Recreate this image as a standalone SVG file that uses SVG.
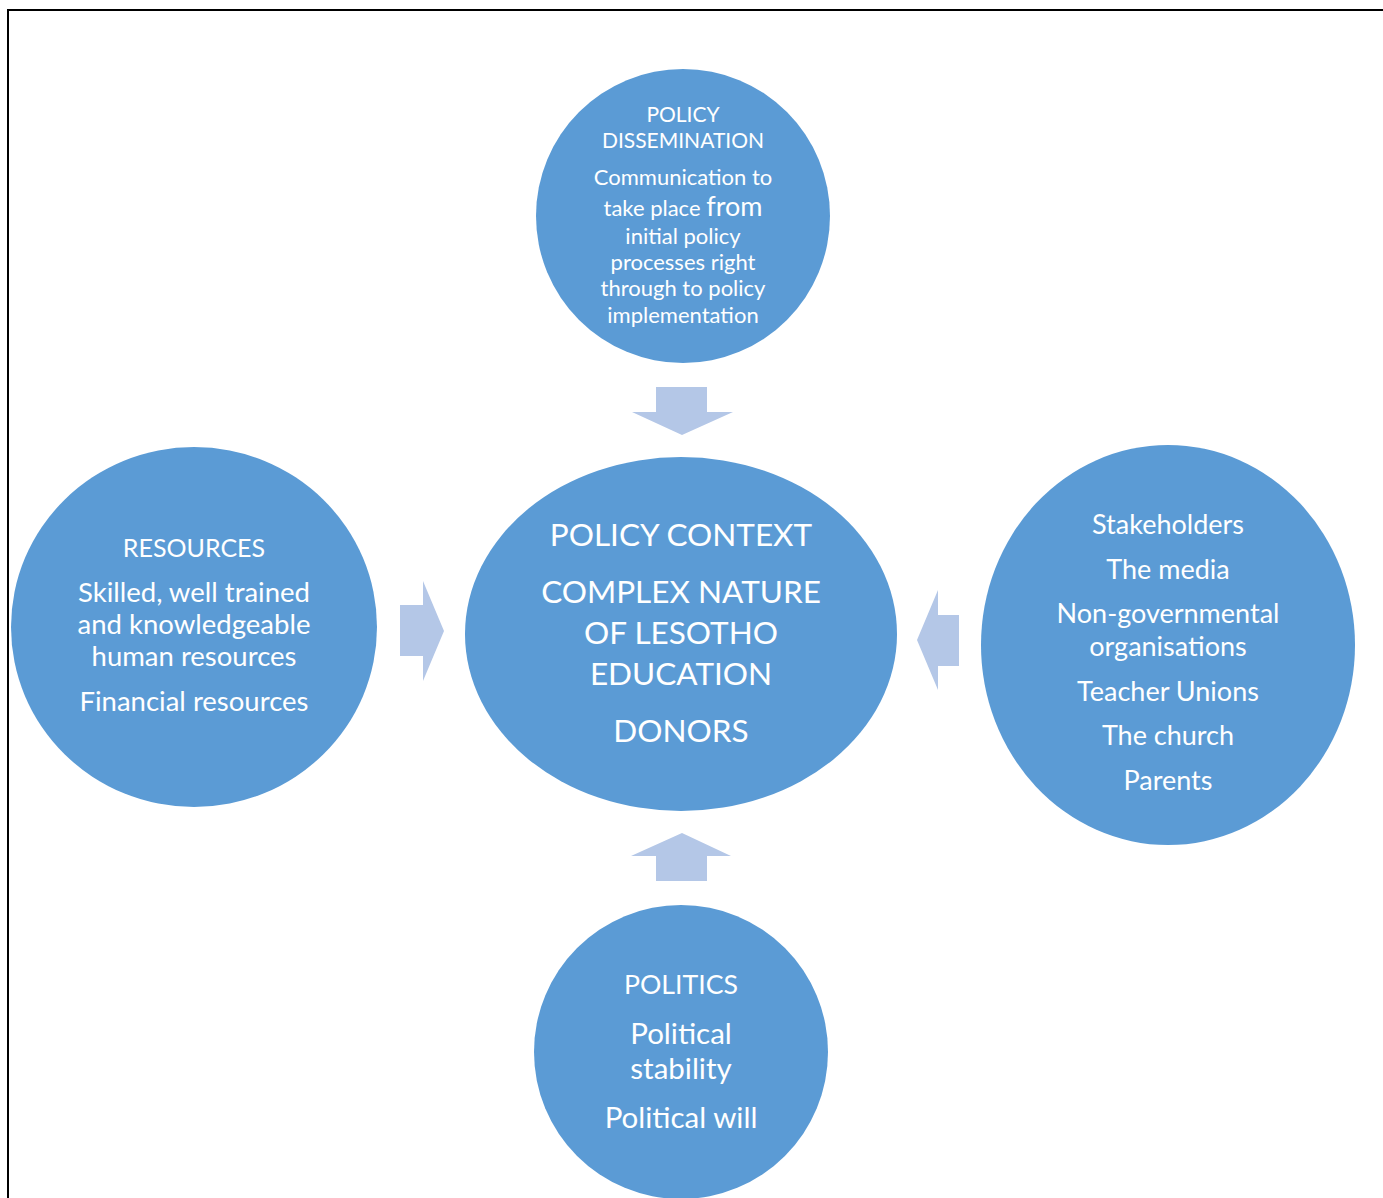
<svg xmlns="http://www.w3.org/2000/svg" width="1383" height="1198" viewBox="0 0 1383 1198">
  <style>
    .bubble { fill: #5B9BD5; }
    .flow { fill: #B4C7E7; }
    text { fill: #FFFFFF; font-family: Lato, "Noto Sans", sans-serif; text-anchor: middle; }
    .frame { fill: none; stroke: #000000; stroke-width: 2; }
  </style>
  <rect width="1383" height="1198" fill="#FFFFFF"/>
  <polyline class="frame" points="8,1198 8,10 1383,10"/>

  <g id="connectors">
    <polygon class="flow" points="656,387 707,387 707,412 733,412 682,435 632,412 656,412"/>
    <polygon class="flow" points="400,605 423,605 423,581 444,631 423,681 423,656 400,656"/>
    <polygon class="flow" points="959,615 938,615 938,590 917,640 938,690 938,666 959,666"/>
    <polygon class="flow" points="682,833 731,856 707,856 707,881 656,881 656,856 631,856"/>
  </g>

  <g id="policy-dissemination" font-size="22">
    <circle class="bubble" cx="683" cy="216" r="147"/>
    <text x="683" y="122" font-size="21">POLICY</text>
    <text x="683" y="148" font-size="21">DISSEMINATION</text>
    <text x="683" y="185">Communication to</text>
    <text x="683" y="216">take place <tspan font-size="27">from</tspan></text>
    <text x="683" y="244">initial policy</text>
    <text x="683" y="270">processes right</text>
    <text x="683" y="296">through to policy</text>
    <text x="683" y="323">implementation</text>
  </g>

  <g id="resources" font-size="27.5">
    <ellipse class="bubble" cx="194" cy="627" rx="183" ry="180"/>
    <text x="194" y="557" font-size="25">RESOURCES</text>
    <text x="194" y="602">Skilled, well trained</text>
    <text x="194" y="634">and knowledgeable</text>
    <text x="194" y="666">human resources</text>
    <text x="194" y="711">Financial resources</text>
  </g>

  <g id="policy-context" font-size="31.5">
    <ellipse class="bubble" cx="681" cy="634" rx="216" ry="177"/>
    <text x="681" y="546">POLICY CONTEXT</text>
    <text x="681" y="603">COMPLEX NATURE</text>
    <text x="681" y="644">OF LESOTHO</text>
    <text x="681" y="685">EDUCATION</text>
    <text x="681" y="742">DONORS</text>
  </g>

  <g id="stakeholders" font-size="27">
    <ellipse class="bubble" cx="1168" cy="645" rx="187" ry="200"/>
    <text x="1168" y="534">Stakeholders</text>
    <text x="1168" y="579">The media</text>
    <text x="1168" y="623">Non-governmental</text>
    <text x="1168" y="656">organisations</text>
    <text x="1168" y="701">Teacher Unions</text>
    <text x="1168" y="745">The church</text>
    <text x="1168" y="790">Parents</text>
  </g>

  <g id="politics" font-size="29.5">
    <circle class="bubble" cx="681" cy="1052" r="147"/>
    <text x="681" y="994" font-size="26.7">POLITICS</text>
    <text x="681" y="1044">Political</text>
    <text x="681" y="1079">stability</text>
    <text x="681" y="1128">Political will</text>
  </g>
</svg>
